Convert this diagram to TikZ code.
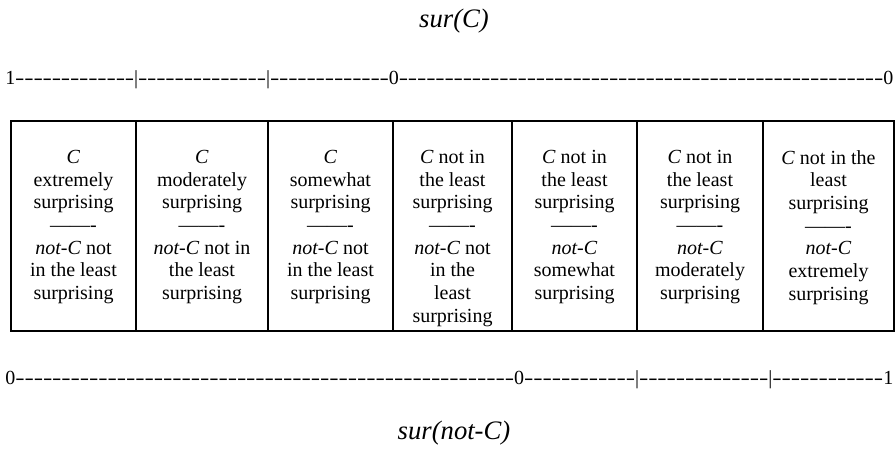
\documentclass[tikz,border=0pt]{standalone}
\usepackage{fontspec}
\usepackage{graphicx}
\setmainfont{Liberation Serif}
\newlength\dw
\newcommand\dashes[1]{\foreach \k in {1,...,#1}{\makebox[\dw][c]{\scalebox{1.4}[1]{-}}}}
\tikzset{
  celltext/.style={anchor=north, align=center, inner sep=0pt, font=\fontsize{12pt}{13.6pt}\selectfont},
  scaletext/.style={inner sep=0pt, font=\fontsize{12pt}{13.6pt}\selectfont},
  axistitle/.style={inner sep=0pt, font=\fontsize{16pt}{18pt}\selectfont\itshape},
  tableline/.style={line width=0.9pt}
}
\begin{document}
\begin{tikzpicture}[x=0.6pt, y=-0.6pt]
\useasboundingbox (0,0) rectangle (896,455);
% titles
\node[axistitle] (surC) at (454,21) {sur(C)};
\node[axistitle] (surnotC) at (454,433) {sur(not-C)};
% scales
\node[scaletext, anchor=base west] (topscale) at (5,85)
  {\setlength\dw{5.484pt}1\dashes{13}|\dashes{14}|\dashes{13}0\dashes{53}0};
\node[scaletext, anchor=base west] (botscale) at (5,385)
  {\setlength\dw{5.543pt}0\dashes{54}0\dashes{12}|\dashes{14}|\dashes{12}1};
% table
\draw[tableline] (11,121) rectangle (894,331);
\foreach \xx in {136,268,393,512,637,763}{
  \draw[tableline] (\xx,121) -- (\xx,331);
}
% cells
\node[celltext] (c1) at (73.5,150) {\textit{C}\\extremely\\surprising\\——-\\\textit{not-C} not\\in the least\\surprising};
\node[celltext] (c2) at (202,150) {\textit{C}\\moderately\\surprising\\——-\\\textit{not-C} not in\\the least\\surprising};
\node[celltext] (c3) at (330.5,150) {\textit{C}\\somewhat\\surprising\\——-\\\textit{not-C} not\\in the least\\surprising};
\node[celltext] (c4) at (452.5,150) {\textit{C} not in\\the least\\surprising\\——-\\\textit{not-C} not\\in the\\least\\surprising};
\node[celltext] (c5) at (574.5,150) {\textit{C} not in\\the least\\surprising\\——-\\\textit{not-C}\\somewhat\\surprising};
\node[celltext] (c6) at (700,150) {\textit{C} not in\\the least\\surprising\\——-\\\textit{not-C}\\moderately\\surprising};
\node[celltext] (c7) at (828.5,150) {\textit{C} not in the\\least\\surprising\\——-\\\textit{not-C}\\extremely\\surprising};
\end{tikzpicture}
\end{document}
